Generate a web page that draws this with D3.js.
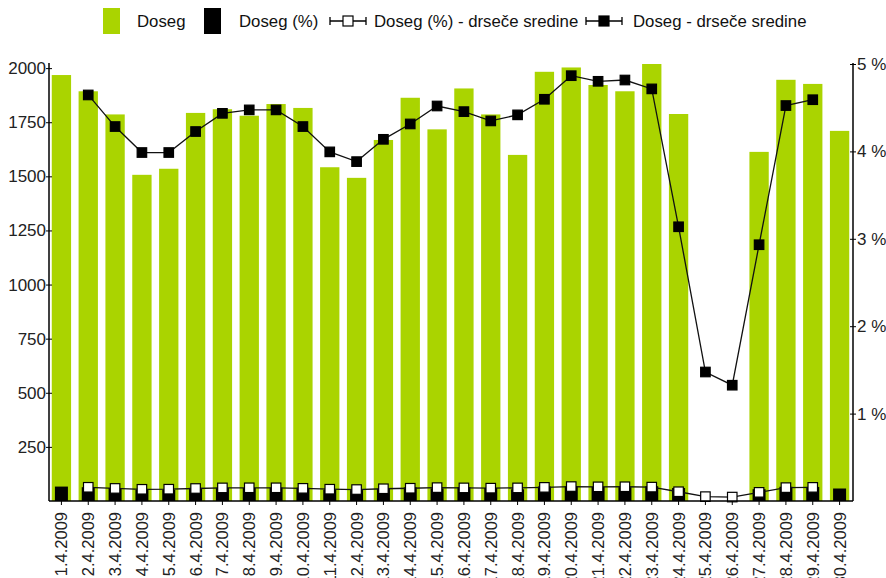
<!DOCTYPE html>
<html>
<head>
<meta charset="utf-8">
<script src="https://cdn.jsdelivr.net/npm/d3@7"></script>
<style>
  body { margin: 0; background: #fff; }
  svg { display: block; font-family: "Liberation Sans", Arial, sans-serif; }
</style>
</head>
<body>
<svg width="886" height="578"></svg>
<script>
const svg = d3.select("svg");

// data
const dates = [
  "1.4.2009", "2.4.2009", "3.4.2009", "4.4.2009", "5.4.2009", "6.4.2009",
  "7.4.2009", "8.4.2009", "9.4.2009", "10.4.2009", "11.4.2009", "12.4.2009",
  "13.4.2009", "14.4.2009", "15.4.2009", "16.4.2009", "17.4.2009", "18.4.2009",
  "19.4.2009", "20.4.2009", "21.4.2009", "22.4.2009", "23.4.2009", "24.4.2009",
  "25.4.2009", "26.4.2009", "27.4.2009", "28.4.2009", "29.4.2009", "30.4.2009"
];
const doseg = [
  1968, 1893, 1786, 1507, 1535, 1793, 1810, 1780, 1834, 1816,
  1542, 1493, 1668, 1863, 1717, 1906, 1786, 1599, 1983, 2003,
  1922, 1893, 2019, 1788, 0, 0, 1613, 1946, 1927, 1710
];
const dosegPct = [
  0.165, 0.158, 0.149, 0.126, 0.128, 0.150, 0.151, 0.149, 0.153, 0.152,
  0.129, 0.125, 0.139, 0.156, 0.143, 0.159, 0.149, 0.134, 0.166, 0.167,
  0.161, 0.158, 0.169, 0.149, 0, 0, 0.135, 0.163, 0.161, 0.143
];
const dosegAvg = [
  null, 1876, 1730, 1610, 1610, 1707, 1791, 1807, 1807, 1730,
  1613, 1568, 1671, 1742, 1825, 1799, 1756, 1784, 1856, 1965,
  1939, 1945, 1904, 1267, 596, 535, 1184, 1827, 1854, null
];
const dosegPctAvg = [
  null, 0.157, 0.144, 0.134, 0.135, 0.143, 0.150, 0.151, 0.151, 0.145,
  0.135, 0.131, 0.140, 0.146, 0.153, 0.150, 0.147, 0.150, 0.156, 0.165,
  0.162, 0.163, 0.159, 0.106, 0.050, 0.045, 0.099, 0.153, 0.156, null
];
const leftTicks = [250, 500, 750, 1000, 1250, 1500, 1750, 2000];
const rightTicks = [1, 2, 3, 4, 5];
const legendLabels = ["Doseg", "Doseg (%)", "Doseg (%) - drseče sredine", "Doseg - drseče sredine"];

const green = "#aad400";
const plotLeft = 49, plotRight = 853, plotTop = 64, plotBottom = 501;

const x = d3.scaleBand().domain(dates).range([plotLeft - 1, plotRight]).paddingInner(0.28).paddingOuter(0.14);
const y = d3.scaleLinear().domain([0, d3.max(doseg)]).range([plotBottom, plotTop]);
const y2 = d3.scaleLinear().domain([0, 5]).range([plotBottom, plotTop]);
const cx = (d) => x(d) + x.bandwidth() / 2;

// ===== bars =====
svg.append("g")
  .selectAll("rect")
  .data(dates)
  .join("rect")
  .attr("x", (d) => x(d))
  .attr("width", x.bandwidth())
  .attr("y", (d, i) => y(doseg[i]))
  .attr("height", (d, i) => plotBottom - y(doseg[i]))
  .attr("fill", green);

svg.append("g")
  .selectAll("rect")
  .data(dates)
  .join("rect")
  .attr("x", (d) => cx(d) - 6.5)
  .attr("width", 13)
  .attr("y", (d, i) => y2(dosegPct[i]))
  .attr("height", (d, i) => plotBottom - y2(dosegPct[i]))
  .attr("fill", "#000");

// ===== moving averages =====
const drawLine = (values, scale, fill) => {
  const pts = dates.map((d, i) => [cx(d), values[i]]).filter((p) => p[1] !== null);
  const line = d3.line().x((p) => p[0]).y((p) => scale(p[1]));
  svg.append("path")
    .attr("d", line(pts))
    .attr("fill", "none")
    .attr("stroke", "#111")
    .attr("stroke-width", 1.3);
  svg.append("g")
    .selectAll("rect")
    .data(pts)
    .join("rect")
    .attr("x", (p) => p[0] - 4.75)
    .attr("y", (p) => scale(p[1]) - 4.75)
    .attr("width", 9.5)
    .attr("height", 9.5)
    .attr("fill", fill)
    .attr("stroke", "#000")
    .attr("stroke-width", 1.2);
};
drawLine(dosegPctAvg, y2, "#fff");
drawLine(dosegAvg, y, "#000");

// ===== axes =====
const axisStyle = (g) => {
  g.select(".domain").attr("stroke", "#000").attr("stroke-width", 1.5);
  g.selectAll(".tick text").attr("fill", "#222").style("font-size", "16.5px");
};

svg.append("g")
  .attr("transform", `translate(${plotLeft},0)`)
  .call(d3.axisLeft(y).tickValues(leftTicks).tickFormat(d3.format("d")).tickSizeOuter(0))
  .call(axisStyle)
  .call((g) => g.selectAll(".tick line").attr("x1", 3).attr("x2", -3).attr("stroke", "#000"))
  .call((g) => g.selectAll(".tick text").attr("x", -3).style("font-size", "17px"))
  .call((g) => g.select(".domain").attr("d", `M0,${plotTop - 1}V${plotBottom}`))
  .attr("font-family", null);

svg.append("g")
  .attr("transform", `translate(${plotRight},0)`)
  .call(d3.axisRight(y2).tickValues(rightTicks).tickFormat((d) => d + " %").tickSizeOuter(0))
  .call(axisStyle)
  .call((g) => g.selectAll(".tick line").attr("x1", -3).attr("x2", 3).attr("stroke", "#000"))
  .call((g) => g.selectAll(".tick text").attr("x", 4).style("font-size", "17px"))
  .call((g) => g.select(".domain").attr("d", `M0,${plotTop - 1}V${plotBottom}`))
  .attr("font-family", null);

// date labels run off the bottom edge, as in the original
svg.append("g")
  .attr("transform", `translate(0,${plotBottom})`)
  .call(d3.axisBottom(x).tickSizeInner(4).tickSizeOuter(0))
  .call(axisStyle)
  .call((g) => g.select(".domain").attr("d", `M${plotLeft},0H${plotRight}`))
  .call((g) => g.selectAll(".tick line").attr("stroke", "#000"))
  .call((g) => g.selectAll(".tick text")
    .attr("transform", "rotate(-90)")
    .attr("text-anchor", "end")
    .attr("x", -11)
    .attr("y", 0)
    .attr("dy", "0.36em"))
  .attr("font-family", null);

// ===== legend =====
const legend = svg.append("g").style("font-size", "16.8px").attr("fill", "#111");
legend.append("rect").attr("x", 103).attr("y", 8).attr("width", 17).attr("height", 26).attr("fill", green);
legend.append("text").attr("x", 137).attr("y", 27).text(legendLabels[0]);
legend.append("rect").attr("x", 204).attr("y", 8).attr("width", 17).attr("height", 26).attr("fill", "#000");
legend.append("text").attr("x", 239).attr("y", 27).text(legendLabels[1]);

const legendLine = (x0, fill) => {
  const g = legend.append("g").attr("transform", `translate(${x0},21)`);
  g.append("path").attr("d", "M0,-4V4M0,0H36M36,-4V4").attr("stroke", "#000").attr("stroke-width", 1.3).attr("fill", "none");
  g.append("rect").attr("x", 13).attr("y", -5).attr("width", 10).attr("height", 10)
    .attr("fill", fill).attr("stroke", "#000").attr("stroke-width", 1.2);
};
legendLine(330, "#fff");
legend.append("text").attr("x", 374).attr("y", 27).text(legendLabels[2]);
legendLine(586, "#000");
legend.append("text").attr("x", 633).attr("y", 27).text(legendLabels[3]);
</script>
</body>
</html>
